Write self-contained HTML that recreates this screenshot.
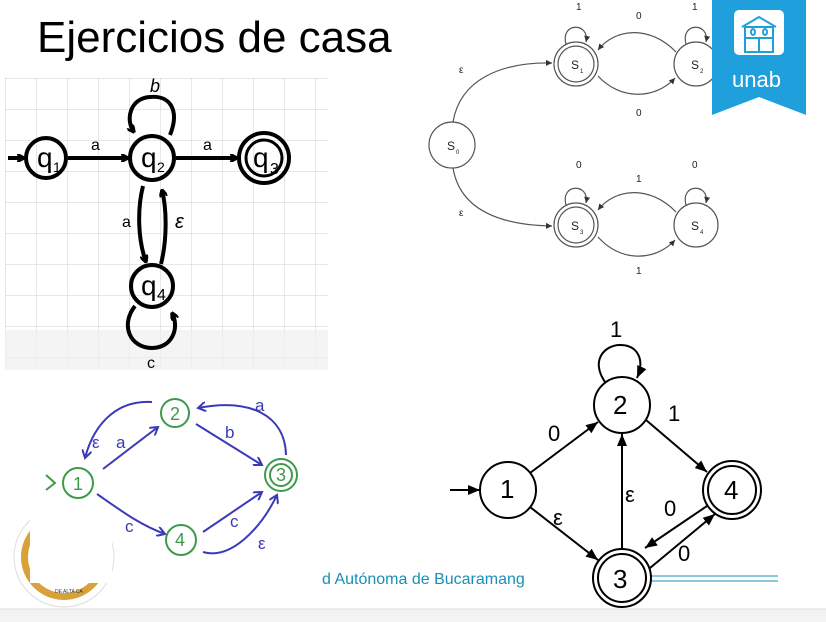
<!DOCTYPE html>
<html><head><meta charset="utf-8"><style>
html,body{margin:0;padding:0;background:#fff;width:826px;height:622px;overflow:hidden}
svg{display:block}
text{font-family:"Liberation Sans",sans-serif}
</style></head><body>
<svg width="826" height="622" viewBox="0 0 826 622">
<defs>
<pattern id="grid" width="31" height="31" patternUnits="userSpaceOnUse" x="5" y="78">
<path d="M0 0H31M0 0V31" stroke="#cfcfcf" stroke-width="1" fill="none"/></pattern>
<marker id="ab" markerWidth="8" markerHeight="8" refX="7" refY="4" orient="auto" markerUnits="userSpaceOnUse"><path d="M0 0L8 4L0 8" fill="none" stroke="#000" stroke-width="2.5"/></marker>
<marker id="at" markerWidth="6" markerHeight="6" refX="6" refY="3" orient="auto" markerUnits="userSpaceOnUse"><path d="M0 0L6 3L0 6z" fill="#333"/></marker>
<marker id="ablue" markerWidth="10" markerHeight="10" refX="8" refY="5" orient="auto" markerUnits="userSpaceOnUse"><path d="M0 0L8 5L0 10" fill="none" stroke="#3a3ab8" stroke-width="2"/></marker>
<marker id="ak" markerWidth="12" markerHeight="10" refX="12" refY="5" orient="auto" markerUnits="userSpaceOnUse"><path d="M0 0L12 5L0 10z" fill="#000"/></marker>
</defs>
<text x="37" y="52" font-size="44" fill="#000">Ejercicios de casa</text>
<rect x="5" y="78" width="323" height="292" fill="#fff"/>
<rect x="5" y="78" width="323" height="292" fill="url(#grid)"/>
<rect x="5" y="330" width="323" height="40" fill="#f0f0f0" opacity="0.7"/>
<g stroke="#000" stroke-width="4" fill="none">
<circle cx="46" cy="158" r="20"/>
<circle cx="152" cy="158" r="22"/>
<circle cx="264" cy="158" r="25"/><circle cx="264" cy="158" r="18" stroke-width="3"/>
<circle cx="152" cy="286" r="21"/>
<path d="M8 158H24" marker-end="url(#ab)"/>
<path d="M68 158H128" marker-end="url(#ab)"/>
<path d="M176 158H237" marker-end="url(#ab)"/>
<path d="M170 135C180 110 170 95 150 97C130 98 125 120 134 132" marker-end="url(#ab)"/>
<path d="M143 186C137 210 138 240 146 262" marker-end="url(#ab)"/>
<path d="M161 264C167 240 167 210 162 190" marker-end="url(#ab)"/>
<path d="M135 306C120 325 130 348 152 348C172 348 180 328 172 313" marker-end="url(#ab)"/>
</g>
<g font-family="Liberation Serif,serif" fill="#000">
<text x="37" y="167" font-size="28">q</text><text x="53" y="172" font-size="14">1</text>
<text x="141" y="167" font-size="28">q</text><text x="157" y="172" font-size="14">2</text>
<text x="253" y="167" font-size="28">q</text><text x="270" y="174" font-size="16">3</text>
<text x="141" y="295" font-size="28">q</text><text x="157" y="300" font-size="16">4</text>
<text x="91" y="150" font-size="16">a</text>
<text x="203" y="150" font-size="16">a</text>
<text x="150" y="92" font-size="18" font-style="italic">b</text>
<text x="122" y="227" font-size="16">a</text>
<text x="175" y="228" font-size="20" font-style="italic">ε</text>
<text x="147" y="368" font-size="16">c</text>
</g>
<g stroke="#555" stroke-width="1.2" fill="none">
<circle cx="576" cy="64" r="22"/><circle cx="576" cy="64" r="18"/>
<circle cx="696" cy="64" r="22"/>
<circle cx="452" cy="145" r="23"/>
<circle cx="576" cy="225" r="22"/><circle cx="576" cy="225" r="18"/>
<circle cx="696" cy="225" r="22"/>
<path d="M453 122C460 80 500 62 552 63" marker-end="url(#at)"/>
<path d="M453 168C460 210 500 225 552 226" marker-end="url(#at)"/>
<path d="M676 52C650 25 615 28 598 50" marker-end="url(#at)"/>
<path d="M598 76C620 100 655 100 675 78" marker-end="url(#at)"/>
<path d="M676 212C650 185 615 188 598 210" marker-end="url(#at)"/>
<path d="M598 237C620 262 655 262 675 240" marker-end="url(#at)"/>
<path d="M566 44C560 22 590 22 586 42" marker-end="url(#at)"/>
<path d="M686 44C680 22 710 22 706 42" marker-end="url(#at)"/>
<path d="M566 205C560 183 590 183 586 203" marker-end="url(#at)"/>
<path d="M686 205C680 183 710 183 706 203" marker-end="url(#at)"/>
</g>
<g font-size="12" fill="#222">
<text x="571" y="69">S</text><text x="580" y="73" font-size="6">1</text>
<text x="691" y="69">S</text><text x="700" y="73" font-size="6">2</text>
<text x="447" y="150">S</text><text x="456" y="154" font-size="6">0</text>
<text x="571" y="230">S</text><text x="580" y="234" font-size="6">3</text>
<text x="691" y="230">S</text><text x="700" y="234" font-size="6">4</text>
<text x="576" y="10" font-size="10">1</text><text x="692" y="10" font-size="10">1</text>
<text x="636" y="19" font-size="10">0</text><text x="636" y="116" font-size="10">0</text>
<text x="459" y="73" font-size="10">ε</text><text x="459" y="216" font-size="10">ε</text>
<text x="576" y="168" font-size="10">0</text><text x="692" y="168" font-size="10">0</text>
<text x="636" y="182" font-size="10">1</text><text x="636" y="274" font-size="10">1</text>
</g>
<path d="M712 0H806V115L759 97L712 115Z" fill="#1f9fdb"/>
<rect x="734" y="10" width="50" height="45" rx="5" fill="#fff"/>
<g stroke="#1f9fdb" stroke-width="2" fill="none">
<path d="M742 27L759 17L776 27M745 27H773V52H745ZM745 38H773M759 38V52"/>
<ellipse cx="753" cy="32" rx="2" ry="3"/><ellipse cx="765" cy="32" rx="2" ry="3"/>
</g>
<text x="732" y="87" font-size="22" fill="#fff">unab</text>
<!-- gold seal (partial), drawn first -->
<circle cx="64" cy="557" r="50" fill="#fff" stroke="#ddd"/>
<circle cx="64" cy="557" r="43" fill="#d9a13a"/>
<circle cx="64" cy="557" r="36" fill="#fff"/>
<rect x="30" y="505" width="82" height="78" fill="#fff"/>
<text x="55" y="593" font-size="5" fill="#333">DE ALTA CA</text>
<!-- bottom-left green/blue -->
<g stroke="#3e9a4a" stroke-width="2" fill="none">
<circle cx="78" cy="483" r="15"/>
<circle cx="175" cy="413" r="14"/>
<circle cx="281" cy="475" r="16"/><circle cx="281" cy="475" r="11"/>
<circle cx="181" cy="540" r="15"/>
<path d="M46 475L55 483L46 490"/>
</g>
<g stroke="#3a3ab8" stroke-width="2" fill="none">
<path d="M152 402C120 400 95 420 85 458" marker-end="url(#ablue)"/>
<path d="M103 469L158 427" marker-end="url(#ablue)"/>
<path d="M196 424L262 465" marker-end="url(#ablue)"/>
<path d="M286 455C285 415 250 398 198 408" marker-end="url(#ablue)"/>
<path d="M97 494C120 510 140 525 165 534" marker-end="url(#ablue)"/>
<path d="M203 532L262 492" marker-end="url(#ablue)"/>
<path d="M203 552C230 560 260 530 277 495" marker-end="url(#ablue)"/>
</g>
<g font-size="17" fill="#3a3ab8" font-family="DejaVu Sans,sans-serif">
<text x="92" y="448">ε</text><text x="116" y="448">a</text>
<text x="225" y="438">b</text><text x="255" y="411">a</text>
<text x="125" y="532">c</text><text x="230" y="527">c</text><text x="258" y="549">ε</text>
</g>
<g font-size="18" fill="#3e9a4a">
<text x="73" y="490">1</text><text x="170" y="420">2</text><text x="276" y="481">3</text><text x="175" y="546">4</text>
</g>
<text x="322" y="584" font-size="16" fill="#1a8fb5">d Autónoma de Bucaramang</text>
<path d="M600 576H778M600 581H778" stroke="#1a8fb5" stroke-width="1"/>
<rect x="0" y="609" width="826" height="13" fill="#f3f3f3"/>
<line x1="0" y1="609" x2="826" y2="609" stroke="#ddd"/>
<g stroke="#000" stroke-width="2" fill="none">
<circle cx="508" cy="490" r="28" fill="#fff"/>
<circle cx="622" cy="405" r="28" fill="#fff"/>
<circle cx="732" cy="490" r="29" fill="#fff"/><circle cx="732" cy="490" r="24"/>
<circle cx="622" cy="578" r="29" fill="#fff"/><circle cx="622" cy="578" r="24"/>
<path d="M450 490H480" marker-end="url(#ak)"/>
<path d="M530 473L598 422" marker-end="url(#ak)"/>
<path d="M530 507L598 560" marker-end="url(#ak)"/>
<path d="M646 420L707 472" marker-end="url(#ak)"/>
<path d="M622 549V434" marker-end="url(#ak)"/>
<path d="M707 506L645 548" marker-end="url(#ak)"/>
<path d="M650 568L715 514" marker-end="url(#ak)"/>
<path d="M605 382C590 360 605 345 620 345C638 345 645 360 637 378" marker-end="url(#ak)"/>
</g>
<g font-size="22" fill="#000">
<text x="500" y="498" font-size="26">1</text>
<text x="613" y="414" font-size="26">2</text>
<text x="724" y="499" font-size="26">4</text>
<text x="613" y="588" font-size="26">3</text>
<text x="610" y="337">1</text>
<text x="548" y="441">0</text>
<text x="668" y="421">1</text>
<text x="553" y="525">ε</text>
<text x="625" y="502">ε</text>
<text x="664" y="516">0</text>
<text x="678" y="561">0</text>
</g>
</svg>
</body></html>
